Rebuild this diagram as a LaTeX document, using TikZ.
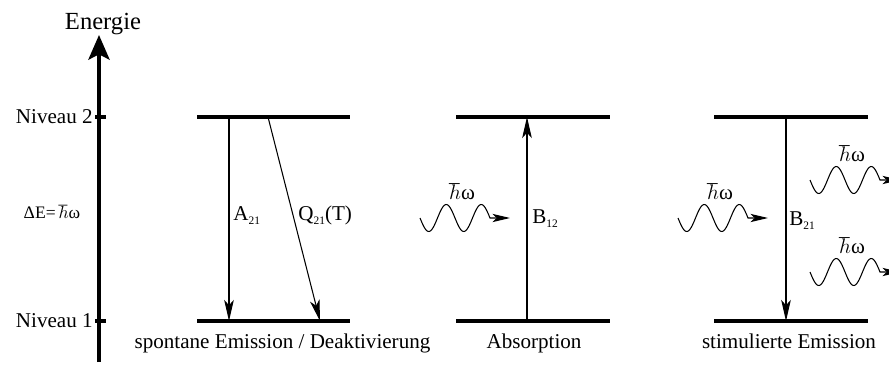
\documentclass[tikz,border=0pt]{standalone}
\usepackage{fontspec}
\setmainfont{Liberation Serif}
\usetikzlibrary{arrows.meta, positioning}

\newcommand\lsub[1]{\raisebox{-.45ex}{\fontsize{6.5}{7}\selectfont #1}}
\newcommand\hw{$\hbar$ω}
% photon: name, start x, start y (wave centre)
\newcommand\photon[3]{%
  \coordinate (#1) at (#2,#3);
  \draw[wave, shift={(#2,#3)}] plot[domain=0:70, samples=71, smooth] (\x,{13.5*sin(\x/35*360)}) -- ++(20,0);
  \node[txt] (#1-hw) at ({#2+42},{#3-19}) {\hw};
}

\begin{document}
\begin{tikzpicture}[x=0.02cm, y=-0.02cm, font=\fontsize{12}{14}\selectfont,
    level/.style={line width=2.3pt},
    trans/.style={line width=.6pt, -{Stealth[length=12pt,width=5.5pt,inset=3pt]}},
    wave/.style={line width=.6pt, -{Stealth[length=10pt,width=4.7pt,inset=2.5pt]}},
    eaxis/.style={line width=2.3pt, -{Stealth[length=14pt,width=12pt,inset=3pt]}},
    tickmark/.style={line width=2pt},
    lbl/.style={inner sep=0pt, anchor=base west},
    txt/.style={inner sep=0pt, anchor=base}]
  \useasboundingbox (0,0) rectangle (889,365);
  % energy axis
  \coordinate (e-bot) at (99,362);
  \coordinate (e-top) at (99,35);
  \draw[eaxis] (e-bot) -- (e-top);
  \node[inner sep=0pt, anchor=south, font=\fontsize{14}{16}\selectfont] (energie) at (103,35) {Energie};
  \foreach \n/\y in {2/117, 1/321} {
    \coordinate (t\n) at (95,\y);
    \draw[tickmark] (t\n) -- ++(11,0);
    \node[inner sep=0pt, anchor=base east] (niv\n) at (93,\y+6) {Niveau \n};
  }
  \node[txt, font=\fontsize{10}{12}\selectfont] (delta) at (52,218) {ΔE=\,\hw};
  % spontane Emission
  \begin{scope}[shift={(197,0)}]
    \foreach \y in {117,321} \draw[level] (0,\y) -- (153,\y);
    \coordinate (sp-a2) at (32,117); \coordinate (sp-a1) at (32,321);
    \coordinate (sp-q2) at (71,117); \coordinate (sp-q1) at (123,321);
    \draw[trans] (sp-a2) -- (sp-a1);
    \draw[trans] (sp-q2) -- (sp-q1);
    \node[lbl] (a21) at (36,220) {A\lsub{21}};
    \node[lbl] (q21) at (101,220) {Q\lsub{21}(T)};
    \node[txt] (sp-text) at (85.5,348) {spontane Emission / Deaktivierung};
  \end{scope}
  % Absorption
  \begin{scope}[shift={(456,0)}]
    \foreach \y in {117,321} \draw[level] (0,\y) -- (154,\y);
    \coordinate (ab-1) at (71,321); \coordinate (ab-2) at (71,117);
    \draw[trans] (ab-1) -- (ab-2);
    \node[lbl] (b12) at (76,223) {B\lsub{12}};
    \photon{ab-ph}{-36}{218}
    \node[txt] (ab-text) at (78,348) {Absorption};
  \end{scope}
  % stimulierte Emission
  \begin{scope}[shift={(714,0)}]
    \foreach \y in {117,321} \draw[level] (0,\y) -- (154,\y);
    \coordinate (st-2) at (72,117); \coordinate (st-1) at (72,321);
    \draw[trans] (st-2) -- (st-1);
    \node[lbl] (b21) at (75,225) {B\lsub{21}};
    \photon{st-in}{-36}{218}
    \foreach \n/\y in {1/180, 2/272} {\photon{st-out\n}{96}{\y}}
    \node[txt] (st-text) at (75,348) {stimulierte Emission};
  \end{scope}
\end{tikzpicture}
\end{document}
